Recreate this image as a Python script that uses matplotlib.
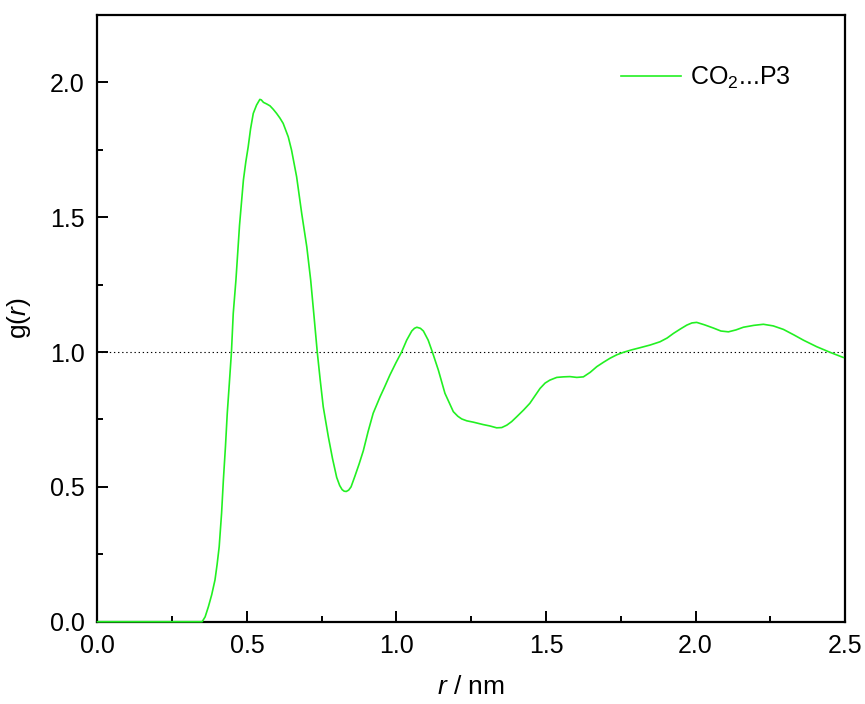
import matplotlib
matplotlib.use("Agg")
import matplotlib.pyplot as plt
from matplotlib.ticker import MultipleLocator, FormatStrFormatter

plt.rcParams["font.family"] = ["Liberation Sans", "DejaVu Sans"]
plt.rcParams["mathtext.fontset"] = "custom"
plt.rcParams["mathtext.rm"] = "Liberation Sans"
plt.rcParams["mathtext.it"] = "Liberation Sans:italic"

# radial distribution function CO2...P3
r_nm = [0.0, 0.10, 0.20, 0.28, 0.35, 0.360, 0.371, 0.382, 0.393, 0.400, 0.407,
        0.415, 0.421, 0.428, 0.434, 0.441, 0.448, 0.454, 0.463, 0.475, 0.488,
        0.496, 0.504, 0.512, 0.521, 0.532, 0.543, 0.548, 0.555, 0.566, 0.577,
        0.588, 0.599, 0.610, 0.621, 0.638, 0.649, 0.666, 0.683, 0.700, 0.713,
        0.724, 0.735, 0.745, 0.755, 0.772, 0.786, 0.800, 0.810, 0.818, 0.825,
        0.832, 0.840, 0.848, 0.861, 0.875, 0.889, 0.905, 0.922, 0.945, 0.960,
        0.978, 0.998, 1.017, 1.034, 1.051, 1.060, 1.068, 1.080, 1.090, 1.106,
        1.120, 1.140, 1.162, 1.190, 1.205, 1.218, 1.235, 1.257, 1.290, 1.312,
        1.335, 1.352, 1.369, 1.385, 1.402, 1.425, 1.446, 1.480, 1.497, 1.513,
        1.536, 1.558, 1.580, 1.603, 1.625, 1.648, 1.670, 1.692, 1.714, 1.737,
        1.759, 1.786, 1.814, 1.848, 1.881, 1.905, 1.926, 1.950, 1.971, 1.988,
        2.004, 2.030, 2.060, 2.085, 2.110, 2.135, 2.160, 2.195, 2.227, 2.260,
        2.294, 2.330, 2.361, 2.405, 2.450, 2.494]
g_r = [0.0, 0.0, 0.0, 0.0, 0.0, 0.018, 0.056, 0.100, 0.155, 0.212, 0.278,
       0.402, 0.525, 0.650, 0.773, 0.885, 1.000, 1.143, 1.267, 1.470, 1.638,
       1.705, 1.761, 1.828, 1.885, 1.916, 1.937, 1.935, 1.926, 1.920, 1.913,
       1.900, 1.885, 1.868, 1.848, 1.798, 1.749, 1.650, 1.514, 1.390, 1.267,
       1.135, 1.000, 0.895, 0.797, 0.686, 0.605, 0.535, 0.505, 0.490, 0.484,
       0.483, 0.488, 0.500, 0.540, 0.585, 0.634, 0.705, 0.773, 0.834, 0.870,
       0.915, 0.960, 1.000, 1.044, 1.078, 1.088, 1.092, 1.088, 1.078, 1.044,
       1.000, 0.933, 0.847, 0.779, 0.762, 0.752, 0.745, 0.740, 0.731, 0.726,
       0.719, 0.720, 0.729, 0.742, 0.760, 0.785, 0.810, 0.865, 0.885, 0.896,
       0.906, 0.908, 0.909, 0.906, 0.908, 0.925, 0.946, 0.962, 0.977, 0.990,
       0.999, 1.008, 1.016, 1.026, 1.038, 1.052, 1.069, 1.086, 1.100, 1.108,
       1.110, 1.101, 1.089, 1.078, 1.075, 1.082, 1.092, 1.099, 1.103, 1.097,
       1.084, 1.063, 1.044, 1.020, 0.999, 0.980]

fig = plt.figure(figsize=(8.65, 7.04), dpi=100)
ax = fig.add_axes([0.1127, 0.1169, 0.8642, 0.8618])

ax.axhline(1.0, color="black", lw=0.8, ls=(0, (1.2, 2.5)), zorder=1)
ax.plot(r_nm, g_r, color="#22f022", lw=1.2, label=r"CO$_2$...P3",
        clip_on=False, zorder=3)

ax.set_xlim(0, 2.5)
ax.set_ylim(0, 2.25)
ax.xaxis.set_major_locator(MultipleLocator(0.5))
ax.xaxis.set_minor_locator(MultipleLocator(0.25))
ax.yaxis.set_major_locator(MultipleLocator(0.5))
ax.yaxis.set_minor_locator(MultipleLocator(0.25))
ax.xaxis.set_major_formatter(FormatStrFormatter("%.1f"))
ax.yaxis.set_major_formatter(FormatStrFormatter("%.1f"))

for s in ax.spines.values():
    s.set_linewidth(1.6)
ax.tick_params(which="both", direction="in", top=False, right=False,
               labelsize=18, width=1.4)
ax.tick_params(which="major", length=8, pad=9)
ax.tick_params(which="minor", length=4.5)

ax.set_xlabel(r"$r$ / nm", fontsize=19, labelpad=12)
ax.set_ylabel(r"g($r$)", fontsize=19, labelpad=12)

ax.legend(loc="upper left", bbox_to_anchor=(0.67, 0.955), frameon=False,
          fontsize=18, handlelength=2.4, handletextpad=0.35)

fig.savefig("out.png", dpi=100)
